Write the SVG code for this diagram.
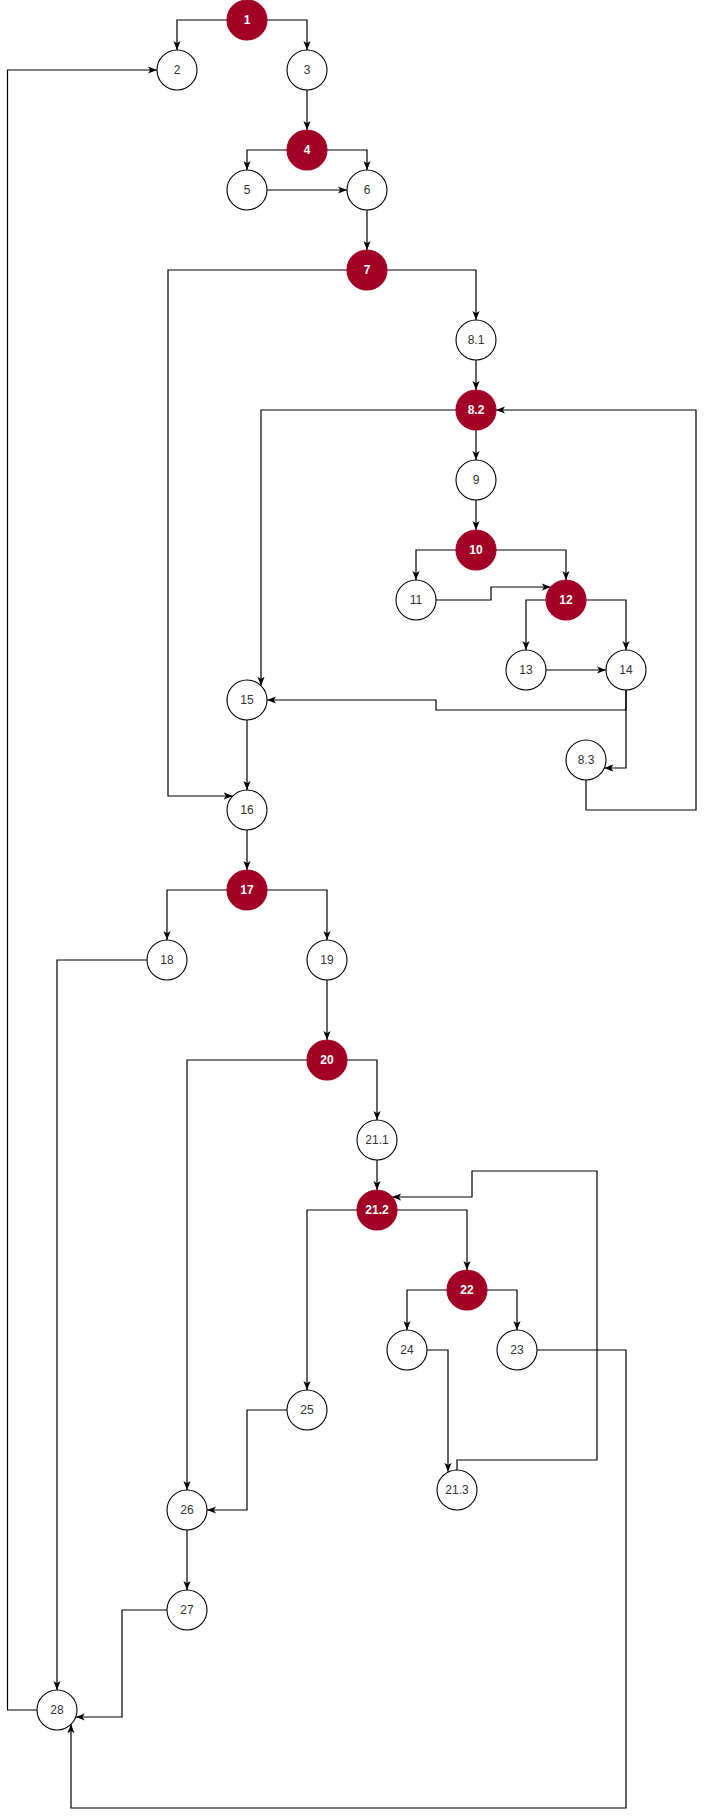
<svg xmlns="http://www.w3.org/2000/svg" width="706" height="1819" viewBox="0 0 706 1819">
<style>
.n circle{fill:#fff;stroke:#000;stroke-width:1.1}
.n text{font-family:"Liberation Sans",Arial,sans-serif;font-size:12px;fill:#333;text-anchor:middle;dominant-baseline:central}
.d circle{fill:#a20025;stroke:#a20025}
.d text{fill:#fff;font-weight:bold}
#edges path{fill:none;stroke:#000;stroke-width:1.2;marker-end:url(#arr)}
</style>
<defs>
<marker id="arr" viewBox="0 0 10 10" refX="10" refY="5" markerWidth="9" markerHeight="9" markerUnits="userSpaceOnUse" orient="auto">
<path d="M0,1 L10,5 L0,9 L2.5,5 z" fill="#000"/>
</marker>
</defs>
<rect width="706" height="1819" fill="#fff"/>
<g id="edges">
<path d="M227,20 H177 V50"/>
<path d="M267,20 H307 V50"/>
<path d="M307,90 V130"/>
<path d="M287,150 H247 V170"/>
<path d="M327,150 H367 V170"/>
<path d="M267,190 H347"/>
<path d="M367,210 V250"/>
<path d="M387,270 H476 V320"/>
<path d="M347,270 H168 V796 H232.7"/>
<path d="M476,360 V390"/>
<path d="M476,430 V460"/>
<path d="M456,410 H261 V685.7"/>
<path d="M476,500 V530"/>
<path d="M456,550 H416 V580"/>
<path d="M496,550 H566 V580"/>
<path d="M436,600 H491 V587 H550.8"/>
<path d="M546,600 H526 V650"/>
<path d="M586,600 H626 V650"/>
<path d="M546,670 H606"/>
<path d="M626,690 V710 H436 V700 H267"/>
<path d="M626,690 V768 H604.3"/>
<path d="M586,780 V810 H696 V410 H496"/>
<path d="M247,720 V790"/>
<path d="M247,830 V870"/>
<path d="M227,890 H167 V940"/>
<path d="M267,890 H327 V940"/>
<path d="M147,960 H57 V1690"/>
<path d="M327,980 V1040"/>
<path d="M347,1060 H377 V1120"/>
<path d="M307,1060 H187 V1490"/>
<path d="M377,1160 V1190"/>
<path d="M357,1210 H307 V1390"/>
<path d="M397,1210 H467 V1270"/>
<path d="M447,1290 H407 V1330"/>
<path d="M487,1290 H517 V1330"/>
<path d="M427,1350 H448 V1471.8"/>
<path d="M457,1470 V1460 H597 V1171 H472 V1197 H392.2"/>
<path d="M537,1350 H626 V1808 H71 V1724.3"/>
<path d="M287,1410 H247 V1510 H207"/>
<path d="M187,1530 V1590"/>
<path d="M167,1610 H122 V1717 H75.7"/>
<path d="M37,1710 H7.5 V70 H157"/>
</g>
<g id="n1" class="n d"><circle cx="247" cy="20" r="20"/><text x="247" y="20">1</text></g>
<g id="n2" class="n"><circle cx="177" cy="70" r="20"/><text x="177" y="70">2</text></g>
<g id="n3" class="n"><circle cx="307" cy="70" r="20"/><text x="307" y="70">3</text></g>
<g id="n4" class="n d"><circle cx="307" cy="150" r="20"/><text x="307" y="150">4</text></g>
<g id="n5" class="n"><circle cx="247" cy="190" r="20"/><text x="247" y="190">5</text></g>
<g id="n6" class="n"><circle cx="367" cy="190" r="20"/><text x="367" y="190">6</text></g>
<g id="n7" class="n d"><circle cx="367" cy="270" r="20"/><text x="367" y="270">7</text></g>
<g id="n8_1" class="n"><circle cx="476" cy="340" r="20"/><text x="476" y="340">8.1</text></g>
<g id="n8_2" class="n d"><circle cx="476" cy="410" r="20"/><text x="476" y="410">8.2</text></g>
<g id="n9" class="n"><circle cx="476" cy="480" r="20"/><text x="476" y="480">9</text></g>
<g id="n10" class="n d"><circle cx="476" cy="550" r="20"/><text x="476" y="550">10</text></g>
<g id="n11" class="n"><circle cx="416" cy="600" r="20"/><text x="416" y="600">11</text></g>
<g id="n12" class="n d"><circle cx="566" cy="600" r="20"/><text x="566" y="600">12</text></g>
<g id="n13" class="n"><circle cx="526" cy="670" r="20"/><text x="526" y="670">13</text></g>
<g id="n14" class="n"><circle cx="626" cy="670" r="20"/><text x="626" y="670">14</text></g>
<g id="n15" class="n"><circle cx="247" cy="700" r="20"/><text x="247" y="700">15</text></g>
<g id="n8_3" class="n"><circle cx="586" cy="760" r="20"/><text x="586" y="760">8.3</text></g>
<g id="n16" class="n"><circle cx="247" cy="810" r="20"/><text x="247" y="810">16</text></g>
<g id="n17" class="n d"><circle cx="247" cy="890" r="20"/><text x="247" y="890">17</text></g>
<g id="n18" class="n"><circle cx="167" cy="960" r="20"/><text x="167" y="960">18</text></g>
<g id="n19" class="n"><circle cx="327" cy="960" r="20"/><text x="327" y="960">19</text></g>
<g id="n20" class="n d"><circle cx="327" cy="1060" r="20"/><text x="327" y="1060">20</text></g>
<g id="n21_1" class="n"><circle cx="377" cy="1140" r="20"/><text x="377" y="1140">21.1</text></g>
<g id="n21_2" class="n d"><circle cx="377" cy="1210" r="20"/><text x="377" y="1210">21.2</text></g>
<g id="n22" class="n d"><circle cx="467" cy="1290" r="20"/><text x="467" y="1290">22</text></g>
<g id="n24" class="n"><circle cx="407" cy="1350" r="20"/><text x="407" y="1350">24</text></g>
<g id="n23" class="n"><circle cx="517" cy="1350" r="20"/><text x="517" y="1350">23</text></g>
<g id="n25" class="n"><circle cx="307" cy="1410" r="20"/><text x="307" y="1410">25</text></g>
<g id="n21_3" class="n"><circle cx="457" cy="1490" r="20"/><text x="457" y="1490">21.3</text></g>
<g id="n26" class="n"><circle cx="187" cy="1510" r="20"/><text x="187" y="1510">26</text></g>
<g id="n27" class="n"><circle cx="187" cy="1610" r="20"/><text x="187" y="1610">27</text></g>
<g id="n28" class="n"><circle cx="57" cy="1710" r="20"/><text x="57" y="1710">28</text></g>
</svg>
